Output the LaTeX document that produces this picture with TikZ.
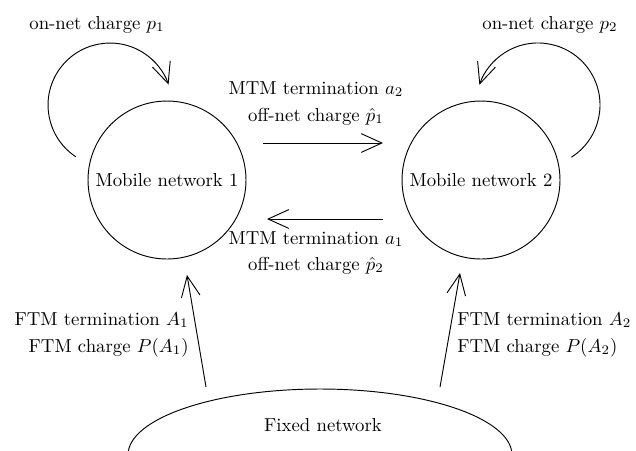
\documentclass[tikz,border=0pt]{standalone}
\usetikzlibrary{arrows.meta}
\begin{document}
\begin{tikzpicture}[x=0.533pt,y=-0.533pt,
  net/.style={draw, circle, minimum size=84.2pt, inner sep=0pt, line width=0.5pt},
  conn/.style={line width=0.5pt, -{Straight Barb[length=11pt,width=10pt,line width=0.5pt]}},
  plain/.style={line width=0.5pt},
  lbl/.style={inner sep=0pt, anchor=base},
  lblr/.style={inner sep=0pt, anchor=base east},
  lbll/.style={inner sep=0pt, anchor=base west},
]
\useasboundingbox (0,0) rectangle (636,450);
% mobile networks
\node[net] (m1) at (167,180) {Mobile network 1};
\node[net] (m2) at (481,180) {Mobile network 2};
% fixed network
\begin{scope}
\clip (0,0) rectangle (636,450);
\draw[plain] (320,455) ellipse [x radius=192, y radius=66];
\end{scope}
\node[lbl] (fx) at (323,431) {Fixed network};
% on-net loops
\coordinate (l1s) at (75.9,156.8);
\coordinate (l2s) at (571.4,157.2);
\draw[conn] (l1s) arc[start angle=123.4, end angle=340.7, radius=62];
\draw[conn] (l2s) arc[start angle=57.4, end angle=-161, radius=62];
\node[lbl] (on1) at (97,29) {on-net charge $p_1$};
\node[lbl] (on2) at (550,29) {on-net charge $p_2$};
% MTM arrows
\coordinate (t1) at (263,143);
\coordinate (t2) at (383,143);
\coordinate (b2) at (383,219);
\coordinate (b1) at (267,219);
\draw[conn] (t1) -- (t2);
\draw[conn] (b2) -- (b1);
\node[lbl] (mtm2) at (316,94) {MTM termination $a_2$};
\node[lbl] (off1) at (316,121) {off-net charge $\hat{p}_1$};
\node[lbl] (mtm1) at (316,244) {MTM termination $a_1$};
\node[lbl] (off2) at (316,270) {off-net charge $\hat{p}_2$};
% FTM arrows
\coordinate (f1) at (206,387);
\coordinate (f1t) at (187,275);
\coordinate (f2) at (440,387);
\coordinate (f2t) at (460,273);
\draw[conn] (f1) -- (f1t);
\draw[conn] (f2) -- (f2t);
\node[lblr] (ftm1) at (189,325) {FTM termination $A_1$};
\node[lblr] (fc1) at (189,352) {FTM charge $P(A_1)$};
\node[lbll] (ftm2) at (457,325) {FTM termination $A_2$};
\node[lbll] (fc2) at (457,352) {FTM charge $P(A_2)$};
\end{tikzpicture}
\end{document}
